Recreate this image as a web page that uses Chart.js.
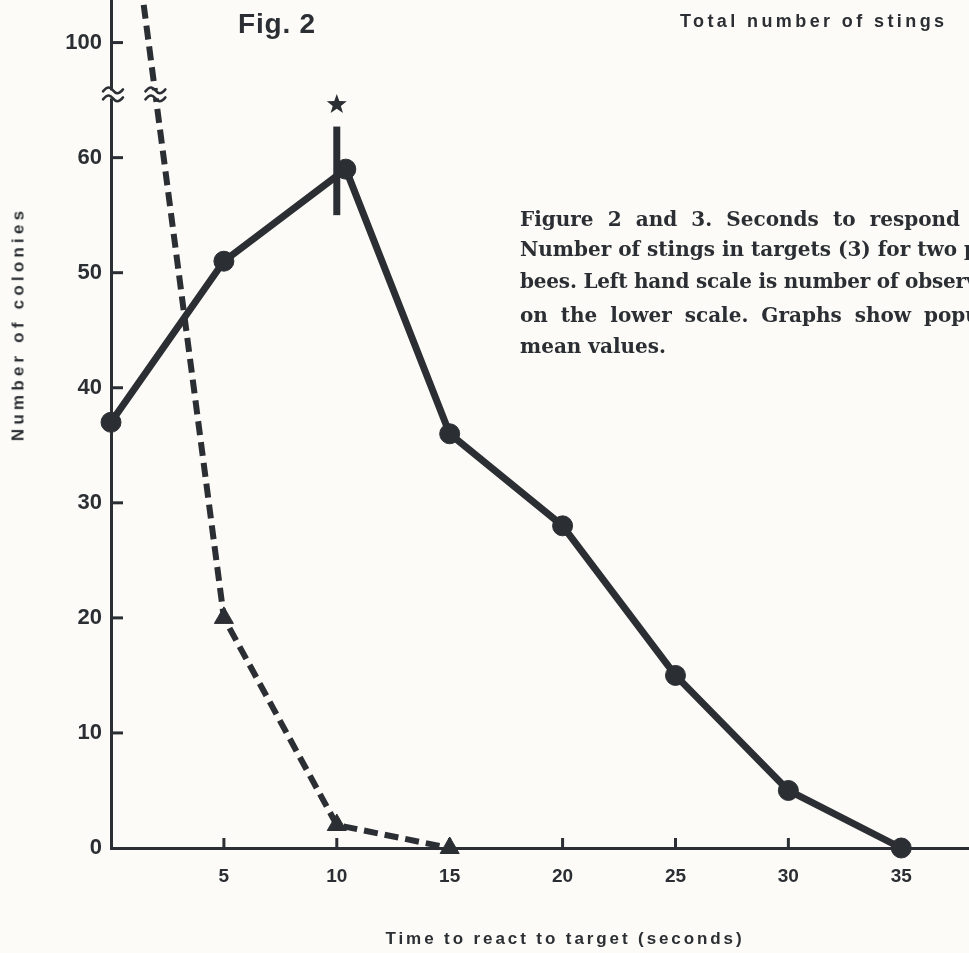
<!DOCTYPE html>
<html>
<head>
<meta charset="utf-8">
<script src="https://cdn.jsdelivr.net/npm/chart.js@4/dist/chart.umd.min.js"></script>
<style>
html,body{margin:0;padding:0;background:#fcfbf7;overflow:hidden;width:969px;height:953px}
#wrap{position:absolute;left:0;top:0;width:969px;height:953px}
canvas{display:block}
.t{position:absolute;color:#2b2f33;white-space:nowrap;font-family:"Liberation Sans",Arial,sans-serif;font-weight:bold;line-height:1}
.cap{position:absolute;left:520px;color:#2b2f33;white-space:nowrap;font-family:"DejaVu Serif",serif;font-weight:bold;font-size:20px;line-height:20px}
</style>
</head>
<body>
<div id="wrap"><canvas id="c" width="969" height="953"></canvas></div>

<div class="t" style="left:238px;top:10px;font-size:28px;letter-spacing:0.8px">Fig. 2</div>
<div class="t" style="left:680px;top:12px;font-size:18px;letter-spacing:3.4px">Total number of stings</div>
<div class="t" style="left:18px;top:324px;font-size:17px;letter-spacing:4.2px;transform:translate(-50%,-50%) rotate(-90deg)">Number of colonies</div>
<div class="t" style="left:565px;top:938px;font-size:17px;letter-spacing:2.9px;transform:translate(-50%,-50%)">Time to react to target (seconds)</div>

<div class="cap" style="top:209px;width:440px;text-align:justify;text-align-last:justify;white-space:normal">Figure 2 and 3. Seconds to respond</div>
<div class="cap" style="top:239px">Number of stings in targets (3) for two populations of</div>
<div class="cap" style="top:271px;letter-spacing:-0.2px">bees. Left hand scale is number of observations</div>
<div class="cap" style="top:305px;word-spacing:6px">on the lower scale. Graphs show population</div>
<div class="cap" style="top:336px">mean values.</div>

<script>
// ---- data ----
const timeSeconds   = [0, 5, 10.4, 15, 20, 25, 30, 35];   // solid line (circles)
const totalStings   = [37, 51, 59, 36, 28, 15, 5, 0];
const dashTime      = [0, 5, 10, 15];                     // dashed line (triangles)
const dashColonies  = [125, 20, 2, 0];                    // first value lies above the axis break
const errorBarTime  = 10;
const errorBarLow   = 55;
const errorBarHigh  = 62.7;
const yTickValues   = [0, 10, 20, 30, 40, 50, 60, 100];
const yTickLabels   = ['0', '10', '20', '30', '40', '50', '60', '100'];
const xTickValues   = [5, 10, 15, 20, 25, 30, 35];
const xTickLabels   = ['5', '10', '15', '20', '25', '30', '35'];

const INK = '#2b2f33';
const BG = '#fcfbf7';

// broken y axis: linear up to the break, the span from the break to 100 squeezed, linear again above 100
const breakValue = 65.5;
function toAxis(v) {
  if (v <= breakValue) return v;
  if (v >= 100) return v - 30;
  return breakValue + (v - breakValue) * (70 - breakValue) / (100 - breakValue);
}

const solidData = timeSeconds.map((t, i) => ({x: t, y: toAxis(totalStings[i])}));
const dashData = dashTime.map((t, i) => ({x: t, y: toAxis(dashColonies[i])}));
const errData = [{x: errorBarTime, y: toAxis(errorBarLow)}, {x: errorBarTime, y: toAxis(errorBarHigh)}];

function tilde(ctx, cx, cy, w) {
  ctx.beginPath();
  ctx.moveTo(cx - w / 2, cy + 1);
  ctx.bezierCurveTo(cx - w / 4, cy - 5, cx - w / 8, cy - 3, cx, cy);
  ctx.bezierCurveTo(cx + w / 8, cy + 3, cx + w / 4, cy + 5, cx + w / 2, cy - 1);
  ctx.stroke();
}
function breakMark(ctx, cx, cy) {
  ctx.save();
  ctx.fillStyle = BG;
  ctx.fillRect(cx - 12, cy - 4, 24, 8);
  ctx.strokeStyle = INK;
  ctx.lineWidth = 2.5;
  ctx.lineCap = 'round';
  tilde(ctx, cx, cy - 4, 20);
  tilde(ctx, cx, cy + 4, 20);
  ctx.restore();
}
function star(ctx, cx, cy, ro, ri) {
  ctx.beginPath();
  for (let i = 0; i < 10; i++) {
    const r = i % 2 === 0 ? ro : ri;
    const a = -Math.PI / 2 + i * Math.PI / 5;
    const px = cx + r * Math.cos(a), py = cy + r * Math.sin(a);
    if (i === 0) ctx.moveTo(px, py); else ctx.lineTo(px, py);
  }
  ctx.closePath();
  ctx.fill();
}

const decor = {
  id: 'decor',
  afterDraw(chart) {
    const ctx = chart.ctx;
    const xs = chart.scales.x, ys = chart.scales.y;
    ctx.save();
    ctx.strokeStyle = INK;
    ctx.lineWidth = 3;
    // inner y ticks
    yTickValues.forEach(v => {
      if (v === 0) return;
      const py = ys.getPixelForValue(toAxis(v));
      ctx.beginPath(); ctx.moveTo(xs.left, py); ctx.lineTo(xs.left + 12, py); ctx.stroke();
    });
    // inner x ticks
    xTickValues.forEach(v => {
      const px = xs.getPixelForValue(v);
      ctx.beginPath(); ctx.moveTo(px, ys.bottom); ctx.lineTo(px, ys.bottom - 10); ctx.stroke();
    });
    // break marks
    const by = ys.getPixelForValue(breakValue);
    breakMark(ctx, xs.left + 2, by);
    const p0 = {x: xs.getPixelForValue(dashData[0].x), y: ys.getPixelForValue(dashData[0].y)};
    const p1 = {x: xs.getPixelForValue(dashData[1].x), y: ys.getPixelForValue(dashData[1].y)};
    const bx = p0.x + (p1.x - p0.x) * (by - p0.y) / (p1.y - p0.y);
    breakMark(ctx, bx, by);
    // significance star
    ctx.fillStyle = INK;
    star(ctx, xs.getPixelForValue(errorBarTime), ys.getPixelForValue(toAxis(errorBarHigh)) - 22, 10.5, 4.3);
    ctx.restore();
  }
};

function noPad(s) { s.paddingTop = 0; s.paddingBottom = 0; s.paddingLeft = 0; s.paddingRight = 0; }

new Chart(document.getElementById('c'), {
  type: 'line',
  data: {
    datasets: [
      {
        data: errData, borderColor: INK, borderWidth: 7, pointRadius: 0,
        borderCapStyle: 'butt', clip: false
      },
      {
        data: solidData, borderColor: INK, borderWidth: 7, tension: 0,
        pointRadius: 10, pointBorderWidth: 1, pointBackgroundColor: INK, pointBorderColor: INK,
        borderJoinStyle: 'round', clip: false
      },
      {
        data: dashData, borderColor: INK, borderWidth: 6, borderDash: [14, 7], tension: 0,
        pointStyle: 'triangle', pointRadius: [0, 11, 11, 11], pointBorderWidth: 1,
        pointBackgroundColor: INK, pointBorderColor: INK, clip: false
      }
    ]
  },
  options: {
    responsive: false,
    animation: false,
    events: [],
    layout: {padding: 0, autoPadding: false},
    plugins: {legend: {display: false}, tooltip: {enabled: false}},
    scales: {
      x: {
        type: 'linear', min: 0, max: 38,
        grid: {display: false, drawTicks: false},
        border: {display: true, color: INK, width: 3},
        afterBuildTicks: s => { s.ticks = xTickValues.map(v => ({value: v})); },
        afterFit: s => { s.height = 105; noPad(s); },
        ticks: {
          autoSkip: false, maxRotation: 0, padding: 17, color: INK,
          font: {family: '"Liberation Sans", Arial, sans-serif', size: 19, weight: 'bold'},
          callback: (v, i) => xTickLabels[i]
        }
      },
      y: {
        type: 'linear', min: 0, max: 73.7,
        grid: {display: false, drawTicks: false},
        border: {display: true, color: INK, width: 3},
        afterBuildTicks: s => { s.ticks = yTickValues.map(v => ({value: toAxis(v)})); },
        afterFit: s => { s.width = 111; noPad(s); },
        ticks: {
          autoSkip: false, padding: 9, color: INK,
          font: {family: '"Liberation Sans", Arial, sans-serif', size: 22, weight: 'bold'},
          callback: (v, i) => yTickLabels[i]
        }
      }
    }
  },
  plugins: [decor]
});
</script>
</body>
</html>
